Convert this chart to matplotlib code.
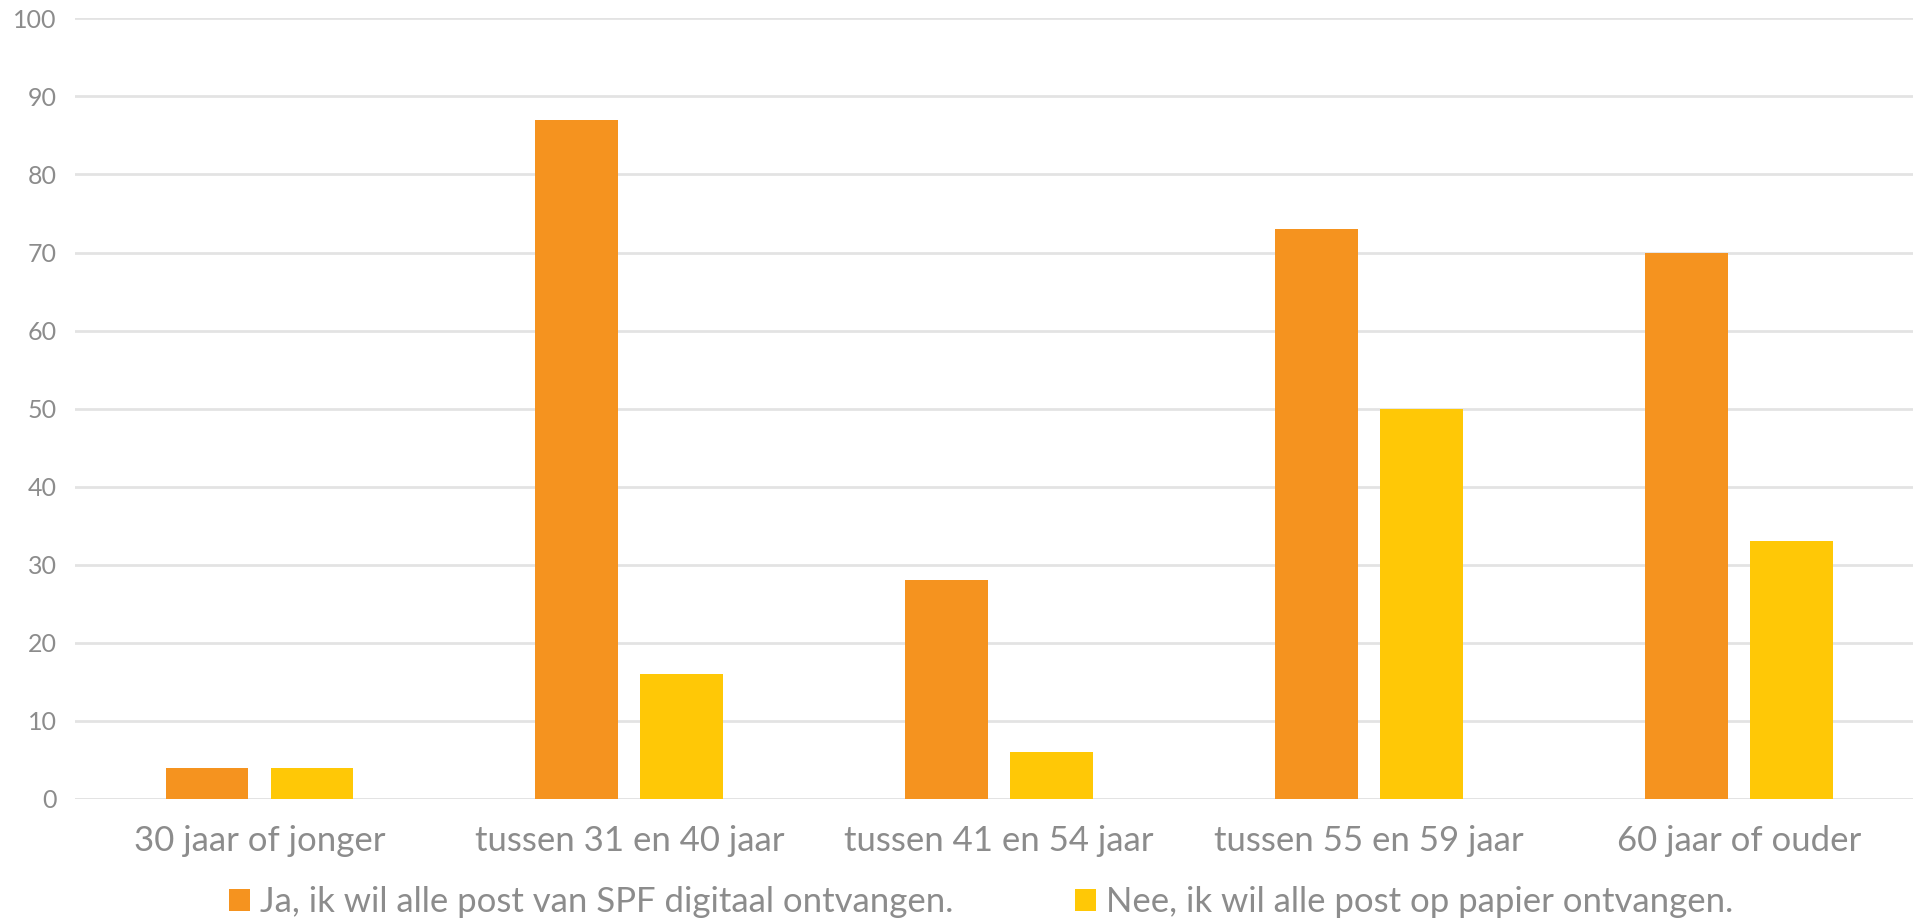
import matplotlib.pyplot as plt
import numpy as np

# leeftijdscategorieen en antwoorden
categorieen = ["30 jaar of jonger", "tussen 31 en 40 jaar", "tussen 41 en 54 jaar",
               "tussen 55 en 59 jaar", "60 jaar of ouder"]
ja_digitaal = [4, 87, 28, 73, 70]
nee_papier = [4, 16, 6, 50, 33]
reeksen = ["Ja, ik wil alle post van SPF digitaal ontvangen.",
           "Nee, ik wil alle post op papier ontvangen."]

plt.rcParams['font.family'] = ['Lato', 'DejaVu Sans']
grijs = '#8c8c8c'

fig = plt.figure(figsize=(19.13, 9.19), dpi=100)
ax = fig.add_axes([0.039, 0.1306, 0.9666, 0.8494])

x = np.arange(len(categorieen))
breedte = 0.224
ax.bar(x - 0.142, ja_digitaal, breedte, color='#f5931f', label=reeksen[0], zorder=3)
ax.bar(x + 0.142, nee_papier, breedte, color='#ffc806', label=reeksen[1], zorder=3)

ax.set_xlim(-0.5, len(categorieen) - 0.5)
ax.set_ylim(0, 100)
ax.set_yticks(range(0, 101, 10))
ax.set_xticks(x)
ax.set_xticklabels(categorieen, fontsize=25, color=grijs)
ax.tick_params(axis='y', labelsize=18, labelcolor=grijs, length=0, pad=13)
ax.tick_params(axis='x', length=0, pad=19)

ax.grid(axis='y', color='#e3e3e3', linewidth=2, zorder=0)
for s in ax.spines.values():
    s.set_visible(False)
ax.axhline(0, color='#e3e3e3', linewidth=2, zorder=1)

fig.legend(loc='center', bbox_to_anchor=(0.513, 0.018), ncol=2, frameon=False,
           fontsize=25, labelcolor=grijs, handlelength=0.6, handleheight=0.6,
           handletextpad=0.3, columnspacing=3.5)

plt.savefig('out.png', dpi=100)
